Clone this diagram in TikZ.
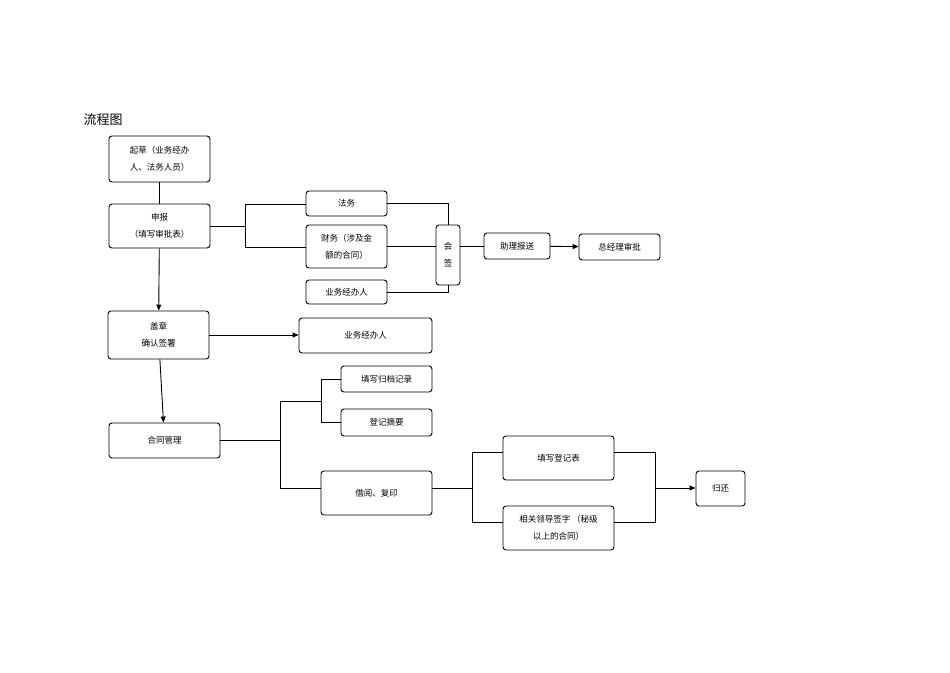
\documentclass[tikz,border=0pt]{standalone}
\usepackage{fontspec}
\setmainfont{Noto Sans CJK SC}
\usetikzlibrary{arrows.meta}
\begin{document}
\begin{tikzpicture}[x=1pt,y=-1pt,
  box/.style={draw,rounded corners=3pt,line width=0.9pt,inner sep=0pt,align=center,font=\fontsize{8.5}{17}\selectfont},
  ln/.style={line width=0.9pt},
  ar/.style={line width=0.9pt,-{Triangle[length=6pt,width=5pt]}}]
\useasboundingbox (0,0) rectangle (950,672);
\node[anchor=west,font=\fontsize{13}{15}\selectfont] (title) at (80,120) {流程图};
\newcommand{\bx}[6]{\node[box,minimum width=#4-#2,minimum height=#5-#3] (#1) at ({(#2+#4)/2},{(#3+#5)/2}) {#6};}
\bx{qc}{109}{136}{210}{182}{起草（业务经办\\人、法务人员）}
\bx{sb}{109}{204}{210}{248}{申报\\（填写审批表）}
\bx{fw}{306}{191}{387}{216}{法务}
\bx{cw}{306}{225}{387}{268}{财务（涉及金\\额的合同）}
\bx{yw}{306}{280}{387}{304}{业务经办人}
\bx{hq}{436}{225}{460}{285}{会\\签}
\bx{zl}{484}{233}{550}{259}{助理报送}
\bx{zj}{579}{234}{660}{260}{总经理审批}
\bx{gz}{108}{311}{209}{359}{盖章\\确认签署}
\bx{yw2}{299}{318}{432}{353}{业务经办人}
\bx{tx}{341}{366}{432}{392}{填写归档记录}
\bx{dj}{341}{409}{432}{436}{登记摘要}
\bx{ht}{109}{423}{220}{458}{合同管理}
\bx{jy}{321}{471}{432}{515}{借阅、复印}
\bx{tb}{503}{436}{614}{480}{填写登记表}
\bx{xg}{503}{506}{614}{550}{相关领导签字 （秘级\\以上的合同）}
\bx{gh}{696}{471}{745}{506}{归还}
\coordinate (a1) at (245,204); \coordinate (a2) at (245,247);
\draw[ln] (qc) -- (sb);
\draw[ln] (sb.east) -- (sb.east -| a1) (a1) -- (a2);
\draw[ln] (a1) -- (fw.west |- a1);
\draw[ln] (a2) -- (cw.west |- a2);
\draw[ln] (fw.east) -| (hq.north);
\draw[ln] (cw.east) -- (hq.west |- cw.east);
\draw[ln] (yw.east) -| (hq.south);
\draw[ln] (hq.east |- zl.west) -- (zl.west);
\draw[ar] (zl) -- (zj);
\draw[ar] (sb) -- (gz);
\draw[ar] (gz.east) -- (yw2.west |- gz.east);
\draw[ar] (gz) -- (ht);
\coordinate (b1) at (280,401); \coordinate (b2) at (280,488);
\coordinate (c1) at (321,379); \coordinate (c2) at (321,422);
\draw[ln] (ht.east) -- (ht.east -| b1) (b1) -- (b2);
\draw[ln] (b1) -- (b1 -| c1) (c1) -- (c2);
\draw[ln] (c1) -- (tx.west |- c1);
\draw[ln] (c2) -- (dj.west |- c2);
\draw[ln] (b2) -- (jy.west |- b2);
\coordinate (d1) at (472,452); \coordinate (d2) at (472,522);
\draw[ln] (jy.east |- b2) -- (472,488) (d1) -- (d2);
\draw[ln] (d1) -- (tb.west |- d1);
\draw[ln] (d2) -- (xg.west |- d2);
\coordinate (e1) at (655,452); \coordinate (e2) at (655,522); \coordinate (e3) at (655,488);
\draw[ln] (tb.east |- e1) -- (e1) -- (e2) -- (xg.east |- e2);
\draw[ar] (e3) -- (gh.west |- e3);
\end{tikzpicture}
\end{document}
